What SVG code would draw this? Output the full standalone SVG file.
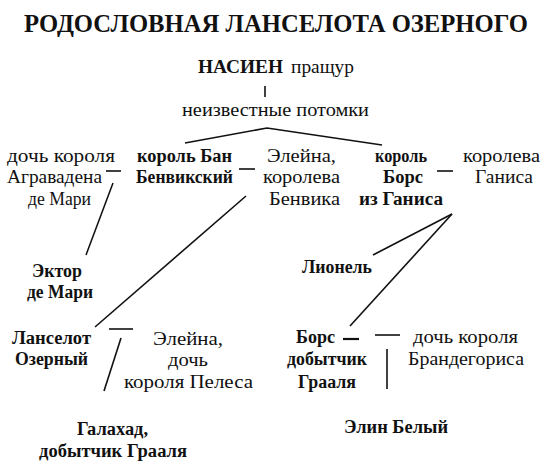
<svg xmlns="http://www.w3.org/2000/svg" width="550" height="475" viewBox="0 0 550 475" font-family="'Liberation Serif', 'Times New Roman', Times, 'DejaVu Serif', 'Noto Serif', FreeSerif, serif">
<style>
text{fill:#111;}
.r{font-size:19px;}
.b{font-size:18px;font-weight:bold;}
.t{font-size:25px;font-weight:bold;}
.ln{stroke:#111;stroke-width:1.6;fill:none;stroke-linecap:butt;}
</style>
<rect width="550" height="475" fill="#fff"/>
<g id="title"><text class="t" x="24" y="32" textLength="504" lengthAdjust="spacingAndGlyphs">РОДОСЛОВНАЯ ЛАНСЕЛОТА ОЗЕРНОГО</text></g>
<g id="nasien">
<text class="b" x="198" y="73" textLength="85" lengthAdjust="spacingAndGlyphs" style="font-size:19px">НАСИЕН</text>
<text class="r" x="291" y="73" textLength="63" lengthAdjust="spacingAndGlyphs">пращур</text>
</g>
<g id="descendants"><text class="r" x="182" y="116" textLength="187" lengthAdjust="spacingAndGlyphs">неизвестные потомки</text></g>
<g id="agravadena">
<text class="r" x="7" y="162" textLength="108" lengthAdjust="spacingAndGlyphs">дочь короля</text>
<text class="r" x="7" y="183" textLength="95" lengthAdjust="spacingAndGlyphs">Агравадена</text>
<text class="r" x="28" y="205" textLength="63" lengthAdjust="spacingAndGlyphs">де Мари</text>
</g>
<g id="ban">
<text class="b" x="137" y="162" textLength="95" lengthAdjust="spacingAndGlyphs">король Бан</text>
<text class="b" x="136" y="183" textLength="97" lengthAdjust="spacingAndGlyphs">Бенвикский</text>
</g>
<g id="elaine-benwick">
<text class="r" x="267" y="162" textLength="69" lengthAdjust="spacingAndGlyphs">Элейна,</text>
<text class="r" x="263" y="183" textLength="77" lengthAdjust="spacingAndGlyphs">королева</text>
<text class="r" x="269" y="205" textLength="71" lengthAdjust="spacingAndGlyphs">Бенвика</text>
</g>
<g id="bors-king">
<text class="b" x="375" y="162" textLength="52" lengthAdjust="spacingAndGlyphs">король</text>
<text class="b" x="383" y="183" textLength="40" lengthAdjust="spacingAndGlyphs">Борс</text>
<text class="b" x="359" y="205" textLength="84" lengthAdjust="spacingAndGlyphs">из Ганиса</text>
</g>
<g id="queen-ganis">
<text class="r" x="463" y="162" textLength="77" lengthAdjust="spacingAndGlyphs">королева</text>
<text class="r" x="475" y="183" textLength="58" lengthAdjust="spacingAndGlyphs">Ганиса</text>
</g>
<g id="ector">
<text class="b" x="32" y="277" textLength="50" lengthAdjust="spacingAndGlyphs">Эктор</text>
<text class="b" x="27" y="298" textLength="66" lengthAdjust="spacingAndGlyphs">де Мари</text>
</g>
<g id="lionel"><text class="b" x="302" y="273" textLength="70" lengthAdjust="spacingAndGlyphs">Лионель</text></g>
<g id="lancelot">
<text class="b" x="12" y="344" textLength="79" lengthAdjust="spacingAndGlyphs">Ланселот</text>
<text class="b" x="15" y="365" textLength="73" lengthAdjust="spacingAndGlyphs">Озерный</text>
</g>
<g id="elaine-pelles">
<text class="r" x="153" y="345" textLength="70" lengthAdjust="spacingAndGlyphs">Элейна,</text>
<text class="r" x="168" y="366" textLength="40" lengthAdjust="spacingAndGlyphs">дочь</text>
<text class="r" x="124" y="388" textLength="129" lengthAdjust="spacingAndGlyphs">короля Пелеса</text>
</g>
<g id="bors-grail">
<text class="b" x="296" y="343" textLength="39" lengthAdjust="spacingAndGlyphs">Борс</text>
<text class="b" x="287" y="365" textLength="80" lengthAdjust="spacingAndGlyphs">добытчик</text>
<text class="b" x="298" y="388" textLength="58" lengthAdjust="spacingAndGlyphs">Грааля</text>
</g>
<g id="brandegoris-daughter">
<text class="r" x="413" y="343" textLength="105" lengthAdjust="spacingAndGlyphs">дочь короля</text>
<text class="r" x="408" y="365" textLength="116" lengthAdjust="spacingAndGlyphs">Брандегориса</text>
</g>
<g id="galahad">
<text class="b" x="77" y="435" textLength="71" lengthAdjust="spacingAndGlyphs">Галахад,</text>
<text class="b" x="39" y="457" textLength="148" lengthAdjust="spacingAndGlyphs">добытчик Грааля</text>
</g>
<g id="elyan"><text class="b" x="344" y="433" textLength="104" lengthAdjust="spacingAndGlyphs">Элин Белый</text></g>
<g id="connectors" class="ln">
<line x1="265" y1="86" x2="265" y2="97"/>
<polyline points="185,143 267,128 382,145"/>
<line x1="106" y1="171" x2="121" y2="171"/>
<line x1="239" y1="169" x2="255" y2="169"/>
<line x1="437" y1="171" x2="453" y2="171"/>
<line x1="113" y1="183" x2="86" y2="255"/>
<line x1="246" y1="196" x2="95" y2="327"/>
<line x1="452" y1="214" x2="373" y2="255"/>
<line x1="452" y1="214" x2="350" y2="326"/>
<line x1="109" y1="329" x2="133" y2="329"/>
<line x1="121" y1="338" x2="104" y2="391"/>
<line x1="343" y1="339" x2="359" y2="339" stroke-width="2.2"/>
<line x1="375" y1="335" x2="400" y2="335"/>
<line x1="387" y1="349" x2="387" y2="389"/>
</g>
</svg>
